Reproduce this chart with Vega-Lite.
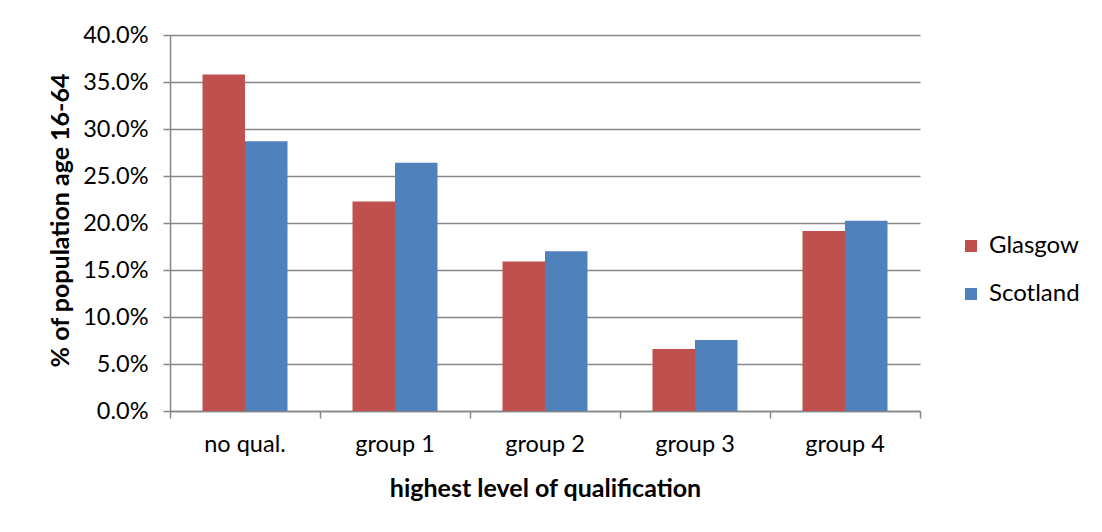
{
  "$schema": "https://vega.github.io/schema/vega-lite/v6.json",
  "autosize": "none",
  "width": 750,
  "height": 376,
  "padding": {"left": 170, "top": 35, "right": 182, "bottom": 121},
  "background": "white",
  "data": {
    "values": [
      {"qual": "no qual.", "area": "Glasgow", "pct": 0.358},
      {"qual": "no qual.", "area": "Scotland", "pct": 0.287},
      {"qual": "group 1", "area": "Glasgow", "pct": 0.223},
      {"qual": "group 1", "area": "Scotland", "pct": 0.264},
      {"qual": "group 2", "area": "Glasgow", "pct": 0.159},
      {"qual": "group 2", "area": "Scotland", "pct": 0.170},
      {"qual": "group 3", "area": "Glasgow", "pct": 0.066},
      {"qual": "group 3", "area": "Scotland", "pct": 0.0755},
      {"qual": "group 4", "area": "Glasgow", "pct": 0.1915},
      {"qual": "group 4", "area": "Scotland", "pct": 0.2025}
    ]
  },
  "mark": {"type": "bar"},
  "encoding": {
    "x": {
      "field": "qual",
      "type": "nominal",
      "sort": ["no qual.", "group 1", "group 2", "group 3", "group 4"],
      "scale": {"paddingInner": 0, "paddingOuter": 0},
      "axis": {
        "title": "highest level of qualification",
        "labelAngle": 0,
        "bandPosition": 1,
        "tickExtra": true,
        "grid": false,
        "tickSize": 7,
        "labelPadding": 14,
        "titleX": 375,
        "titleY": 77,
        "titleBaseline": "middle",
        "titleAlign": "center"
      }
    },
    "xOffset": {
      "field": "area",
      "type": "nominal",
      "scale": {"paddingInner": 0, "paddingOuter": 0.765}
    },
    "y": {
      "field": "pct",
      "type": "quantitative",
      "scale": {"domain": [0, 0.4], "nice": false},
      "axis": {
        "title": "% of population  age 16-64",
        "format": ".1%",
        "values": [0, 0.05, 0.1, 0.15, 0.2, 0.25, 0.3, 0.35, 0.4],
        "grid": true,
        "tickSize": 7,
        "labelPadding": 15,
        "titleAngle": -90,
        "titleX": -110,
        "titleY": 185,
        "titleAlign": "center",
        "titleBaseline": "middle"
      }
    },
    "color": {
      "field": "area",
      "type": "nominal",
      "scale": {"domain": ["Glasgow", "Scotland"], "range": ["#C0504D", "#4F81BD"]},
      "legend": {
        "title": null,
        "orient": "none",
        "legendX": 789,
        "legendY": 199,
        "symbolType": "square",
        "symbolSize": 144,
        "symbolStrokeWidth": 0,
        "rowPadding": 24,
        "labelOffset": 6,
        "padding": 0
      }
    }
  },
  "config": {
    "font": "Lato",
    "view": {"stroke": null},
    "axis": {
      "labelFont": "Lato",
      "labelFontSize": 23.5,
      "labelColor": "#000000",
      "titleFont": "Lato",
      "titleFontSize": 25,
      "titleFontWeight": "bold",
      "titleColor": "#000000",
      "domainColor": "#868686",
      "domainWidth": 1.5,
      "tickColor": "#868686",
      "tickWidth": 1.5,
      "gridColor": "#868686",
      "gridWidth": 1.5
    },
    "legend": {
      "labelFont": "Lato",
      "labelFontSize": 24,
      "labelColor": "#000000"
    }
  }
}
